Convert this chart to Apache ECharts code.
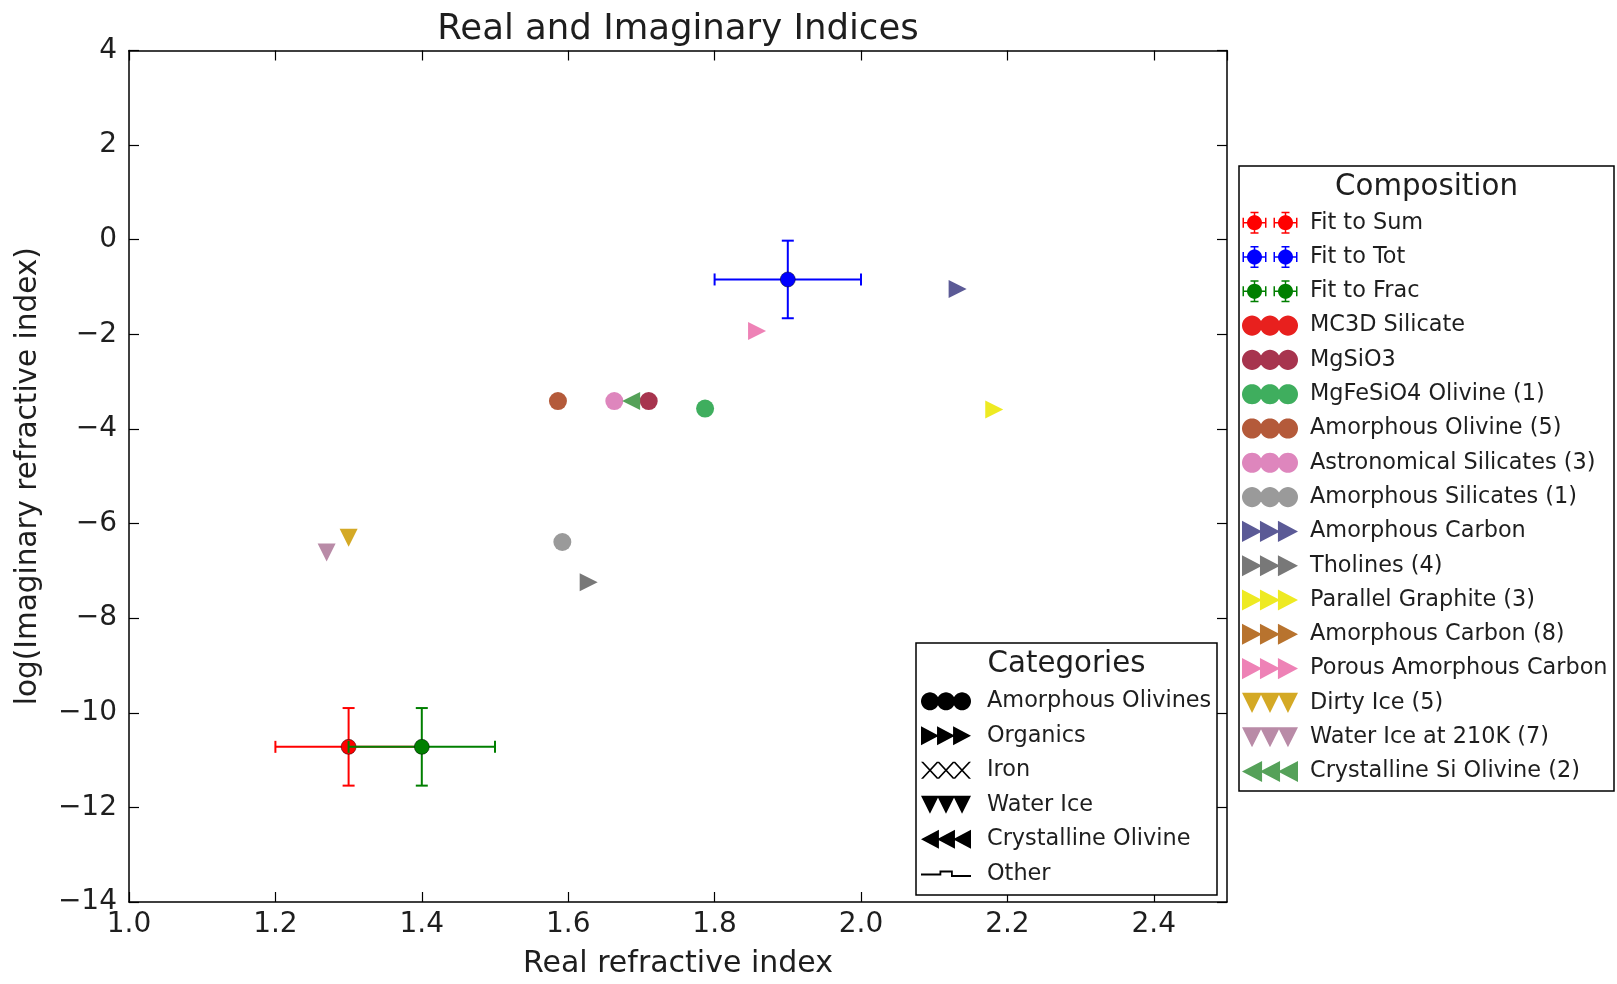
<!DOCTYPE html>
<html>
<head>
<meta charset="utf-8">
<script src="https://cdn.jsdelivr.net/npm/echarts@6/dist/echarts.min.js"></script>
<style>
  html, body { margin: 0; padding: 0; background: #ffffff; }
  #chart { width: 1617px; height: 984px; }
</style>
</head>
<body>
<div id="chart"></div>
<script>
const FONT = '"DejaVu Sans", "Liberation Sans", sans-serif';
const TEXT = '#1e1e1e';

// Axis ranges and tick spacing
const xRange = [1.0, 2.5];
const xStep = 0.2;
const yRange = [-14, 4];
const yStep = 2;

// Fits with error bars: [real index, log imaginary index, x error, y error]
const fitToSum  = [[1.30, -10.72, 0.10, 0.82]];
const fitToTot  = [[1.90, -0.84, 0.10, 0.82]];
const fitToFrac = [[1.40, -10.72, 0.10, 0.82]];

// Materials: [real index, log imaginary index]
const mc3dSilicate          = [];
const mgSiO3                = [[1.710, -3.41]];
const mgFeSiO4Olivine       = [[1.787, -3.57]];
const amorphousOlivine      = [[1.586, -3.41]];
const astronomicalSilicates = [[1.663, -3.41]];
const amorphousSilicates    = [[1.592, -6.39]];
const amorphousCarbon       = [[2.132, -1.04]];
const tholines              = [[1.628, -7.24]];
const parallelGraphite      = [[2.182, -3.59]];
const amorphousCarbon8      = [];
const porousAmorphousCarbon = [[1.858, -1.93]];
const dirtyIce              = [[1.300, -6.30]];
const waterIce210K          = [[1.270, -6.61]];
const crystallineSiOlivine  = [[1.686, -3.41]];

// Legend names
const fitNames = ['Fit to Sum', 'Fit to Tot', 'Fit to Frac'];
const categoryNames = ['Amorphous Olivines', 'Organics', 'Iron', 'Water Ice', 'Crystalline Olivine', 'Other'];

// ---------- legend icon paths (all sub-paths wound clockwise) ----------
function circ(cx, cy, r) {
  let s = '';
  const n = 36;
  for (let i = 0; i < n; i++) {
    const a = i / n * Math.PI * 2;
    s += (i ? 'L' : 'M') + (cx + r * Math.cos(a)).toFixed(2) + ' ' + (cy + r * Math.sin(a)).toFixed(2) + ' ';
  }
  return s + 'Z ';
}
function rect(x, y, w, h) {
  return 'M' + x + ' ' + y + ' L' + (x + w) + ' ' + y + ' L' + (x + w) + ' ' + (y + h) + ' L' + x + ' ' + (y + h) + ' Z ';
}
const offs = [0, 17, 34];
const ICON = {
  circles: 'path://' + offs.map(o => circ(o + 9.5, 9.5, 9.5)).join(''),
  right: 'path://' + offs.map(o => `M${o} 0 L${o + 19} 10 L${o} 20 Z `).join(''),
  left: 'path://' + offs.map(o => `M${o + 19} 0 L${o + 19} 20 L${o} 10 Z `).join(''),
  down: 'path://' + offs.map(o => `M${o} 0 L${o + 19} 0 L${o + 9.5} 19 Z `).join(''),
  cross: 'path://' + [0, 16, 32].map(o =>
    `M${o} 0 L${o + 2.2} 0 L${o + 18} 17 L${o + 15.8} 17 Z ` +
    `M${o + 15.8} 0 L${o + 18} 0 L${o + 2.2} 17 L${o} 17 Z `).join(''),
  other: 'path://' + rect(0, 9, 20, 2) + rect(18.5, 6, 1.8, 5) + rect(18.5, 6, 12, 2) +
         rect(30, 6, 1.8, 6) + rect(30, 10.5, 20, 2),
  errbar: 'path://' + [13, 44].map(c =>
    circ(c, 11, 7.5) + rect(c - 12, 10.25, 24, 1.5) + rect(c - 12, 6, 1.5, 10) + rect(c + 10.5, 6, 1.5, 10) +
    rect(c - 0.75, 0, 1.5, 22) + rect(c - 4, 0, 8, 1.5) + rect(c - 4, 20.5, 8, 1.5)).join('')
};

// ---------- composition series table ----------
const materials = [
  { name: 'MC3D Silicate',              data: mc3dSilicate,          color: '#e8201e', shape: 'circles' },
  { name: 'MgSiO3',                     data: mgSiO3,                color: '#a7344e', shape: 'circles' },
  { name: 'MgFeSiO4 Olivine (1)',       data: mgFeSiO4Olivine,       color: '#3fae5e', shape: 'circles' },
  { name: 'Amorphous Olivine (5)',      data: amorphousOlivine,      color: '#b45a3a', shape: 'circles' },
  { name: 'Astronomical Silicates (3)', data: astronomicalSilicates, color: '#de86bd', shape: 'circles' },
  { name: 'Amorphous Silicates (1)',    data: amorphousSilicates,    color: '#9a9a9a', shape: 'circles' },
  { name: 'Amorphous Carbon',           data: amorphousCarbon,       color: '#5b5a96', shape: 'right' },
  { name: 'Tholines (4)',               data: tholines,              color: '#787878', shape: 'right' },
  { name: 'Parallel Graphite (3)',      data: parallelGraphite,      color: '#eeea22', shape: 'right' },
  { name: 'Amorphous Carbon (8)',       data: amorphousCarbon8,      color: '#b8732e', shape: 'right' },
  { name: 'Porous Amorphous Carbon',    data: porousAmorphousCarbon, color: '#ee82b6', shape: 'right' },
  { name: 'Dirty Ice (5)',              data: dirtyIce,              color: '#d4a925', shape: 'down' },
  { name: 'Water Ice at 210K (7)',      data: waterIce210K,          color: '#b98ba7', shape: 'down' },
  { name: 'Crystalline Si Olivine (2)', data: crystallineSiOlivine,  color: '#55a159', shape: 'left' }
];
const markerFor = {
  circles: { symbol: 'circle', rotate: 0, size: 18 },
  right:   { symbol: 'triangle', rotate: -90, size: 18 },
  left:    { symbol: 'triangle', rotate: 90, size: 18 },
  down:    { symbol: 'triangle', rotate: 180, size: 18 }
};

const fits = [
  { name: fitNames[0], data: fitToSum,  color: '#ff0000' },
  { name: fitNames[1], data: fitToTot,  color: '#0000ff' },
  { name: fitNames[2], data: fitToFrac, color: '#007f00' }
];
const categoryIcons = ['circles', 'right', 'cross', 'down', 'left', 'other'];

// Error bars with caps plus the centre marker
function renderErrorBar(params, api) {
  const x = api.value(0), y = api.value(1), ex = api.value(2), ey = api.value(3);
  const c = api.coord([x, y]);
  const l = api.coord([x - ex, y]), r = api.coord([x + ex, y]);
  const t = api.coord([x, y + ey]), b = api.coord([x, y - ey]);
  const color = api.visual('color');
  const cap = 6;
  const ls = { stroke: color, lineWidth: 2 };
  const seg = (x1, y1, x2, y2) => ({ type: 'line', shape: { x1, y1, x2, y2 }, style: ls });
  return {
    type: 'group',
    children: [
      seg(l[0], c[1], r[0], c[1]),
      seg(l[0], c[1] - cap, l[0], c[1] + cap),
      seg(r[0], c[1] - cap, r[0], c[1] + cap),
      seg(c[0], t[1], c[0], b[1]),
      seg(c[0] - cap, t[1], c[0] + cap, t[1]),
      seg(c[0] - cap, b[1], c[0] + cap, b[1]),
      { type: 'circle', shape: { cx: c[0], cy: c[1], r: 7.5 },
        style: { fill: color, stroke: 'rgba(0,0,0,0.45)', lineWidth: 1 } }
    ]
  };
}

const series = [];
fits.forEach(f => series.push({
  type: 'custom', name: f.name, data: f.data, renderItem: renderErrorBar,
  itemStyle: { color: f.color }, encode: { x: 0, y: 1 }, z: 3
}));
materials.forEach(m => {
  const mk = markerFor[m.shape];
  series.push({
    type: 'scatter', name: m.name, data: m.data,
    symbol: mk.symbol, symbolRotate: mk.rotate, symbolSize: mk.size,
    itemStyle: { color: m.color, opacity: 1 }, z: 4
  });
});
categoryNames.forEach(n => series.push({
  type: 'scatter', name: n, data: [], itemStyle: { color: '#000000', opacity: 1 }
}));

const compositionLegend = fits.map(f => ({ name: f.name, icon: ICON.errbar }))
  .concat(materials.map(m => ({ name: m.name, icon: ICON[m.shape] })));
const categoryLegend = categoryNames.map((n, i) => ({
  name: n, icon: ICON[categoryIcons[i]], itemStyle: { color: '#000000', opacity: 1 }
}));

const axisLineStyle = { show: true, onZero: false, lineStyle: { color: '#000000', width: 1.5 } };
const tickStyle = { show: true, inside: true, length: 10, lineStyle: { color: '#000000', width: 1.2 } };
const minus = v => (v < 0 ? '\u2212' : '') + Math.abs(v);

const option = {
  backgroundColor: '#ffffff',
  animation: false,
  grid: { left: 129, top: 50.5, width: 1098, height: 854, containLabel: false },
  xAxis: [
    {
      type: 'value', position: 'bottom', min: xRange[0], max: xRange[1], interval: xStep,
      axisLine: axisLineStyle, axisTick: tickStyle, splitLine: { show: false },
      axisLabel: { fontFamily: FONT, fontSize: 28, color: TEXT, margin: 9, showMaxLabel: false,
                   formatter: v => v.toFixed(1) },
      name: 'Real refractive index', nameLocation: 'middle', nameGap: 47,
      nameTextStyle: { fontFamily: FONT, fontSize: 30, color: TEXT }
    },
    {
      type: 'value', position: 'top', min: xRange[0], max: xRange[1], interval: xStep,
      axisLine: axisLineStyle, axisTick: tickStyle, splitLine: { show: false },
      axisLabel: { show: false }
    }
  ],
  yAxis: [
    {
      type: 'value', position: 'left', min: yRange[0], max: yRange[1], interval: yStep,
      axisLine: axisLineStyle, axisTick: tickStyle, splitLine: { show: false },
      axisLabel: { fontFamily: FONT, fontSize: 28, color: TEXT, margin: 12, formatter: minus },
      name: 'log(Imaginary refractive index)', nameLocation: 'middle', nameGap: 86, nameRotate: 90,
      nameTextStyle: { fontFamily: FONT, fontSize: 29.5, color: TEXT }
    },
    {
      type: 'value', position: 'right', min: yRange[0], max: yRange[1], interval: yStep,
      axisLine: axisLineStyle, axisTick: tickStyle, splitLine: { show: false },
      axisLabel: { show: false }
    }
  ],
  legend: [
    {
      orient: 'vertical', left: 1242, top: 211.7, padding: 0,
      itemWidth: 56, itemHeight: 22, itemGap: 12.3, selectedMode: false, symbolKeepAspect: true,
      textStyle: { fontFamily: FONT, fontSize: 22.4, color: TEXT, lineHeight: 22, padding: [0, 0, 0, 7] },
      data: compositionLegend, z: 6
    },
    {
      orient: 'vertical', left: 921, top: 690.3, padding: 0,
      itemWidth: 50, itemHeight: 20, itemGap: 12.5, selectedMode: false, symbolKeepAspect: true,
      textStyle: { fontFamily: FONT, fontSize: 22.4, color: TEXT, lineHeight: 20, padding: [0, 0, 0, 11] },
      data: categoryLegend, z: 6
    }
  ],
  graphic: [
    { type: 'rect', z: 5, shape: { x: 1239, y: 166, width: 375, height: 625 },
      style: { fill: '#ffffff', stroke: '#000000', lineWidth: 1.5 } },
    { type: 'rect', z: 5, shape: { x: 916, y: 643, width: 301, height: 252 },
      style: { fill: '#ffffff', stroke: '#000000', lineWidth: 1.5 } },
    { type: 'text', z: 7, x: 678, y: 29.5,
      style: { text: 'Real and Imaginary Indices', font: '35.5px ' + FONT, fill: TEXT,
               textAlign: 'center', textVerticalAlign: 'middle' } },
    { type: 'text', z: 7, x: 1426.5, y: 187,
      style: { text: 'Composition', font: '29.3px ' + FONT, fill: TEXT,
               textAlign: 'center', textVerticalAlign: 'middle' } },
    { type: 'text', z: 7, x: 1066.5, y: 664,
      style: { text: 'Categories', font: '29.3px ' + FONT, fill: TEXT,
               textAlign: 'center', textVerticalAlign: 'middle' } }
  ],
  series: series
};

const chart = echarts.init(document.getElementById('chart'), null, { renderer: 'canvas' });
chart.setOption(option);
</script>
</body>
</html>
